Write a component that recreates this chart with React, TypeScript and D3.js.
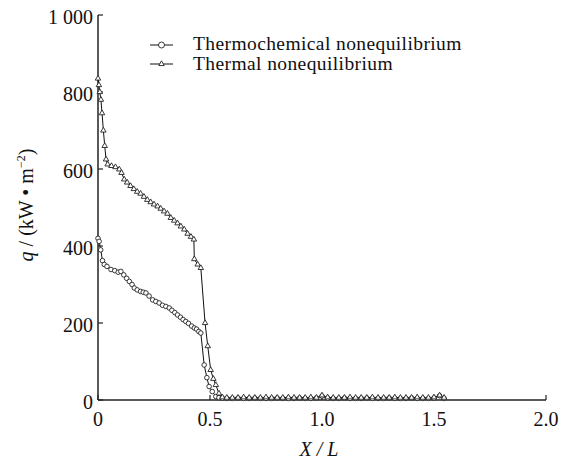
import React from "react";
import * as d3 from "d3";

const thermoChemX = [0, 0.005, 0.012, 0.02, 0.028, 0.04, 0.058, 0.075, 0.09, 0.102, 0.115, 0.128, 0.14, 0.152, 0.162, 0.175, 0.19, 0.202, 0.214, 0.228, 0.244, 0.258, 0.273, 0.288, 0.303, 0.318, 0.33, 0.343, 0.355, 0.368, 0.38, 0.392, 0.404, 0.418, 0.43, 0.44, 0.45, 0.459, 0.474, 0.486, 0.496, 0.51, 0.526, 0.54];
const thermoChemY = [420, 412, 390, 362, 352, 347, 339, 336, 332, 334, 325, 316, 308, 300, 291, 286, 282, 280, 278, 270, 260, 256, 252, 246, 243, 239, 233, 227, 221, 215, 209, 204, 199, 192, 187, 184, 178, 174, 91, 58, 35, 22, 9, 6];

const thermalX = [0, 0.004, 0.008, 0.013, 0.018, 0.024, 0.03, 0.036, 0.043, 0.06, 0.078, 0.095, 0.105, 0.117, 0.13, 0.145, 0.16, 0.175, 0.19, 0.205, 0.22, 0.235, 0.25, 0.266, 0.28, 0.295, 0.31, 0.325, 0.34, 0.355, 0.37, 0.385, 0.4, 0.415, 0.428, 0.43, 0.445, 0.459, 0.478, 0.49, 0.503, 0.515, 0.526, 0.54];
const thermalY = [835, 818, 800, 780, 745, 700, 660, 625, 612, 608, 605, 599, 590, 573, 565, 556, 548, 541, 536, 528, 520, 514, 508, 503, 497, 490, 484, 473, 466, 459, 451, 443, 432, 424, 417, 366, 352, 343, 200, 140, 78, 55, 39, 17];

const tailX = [0.555, 0.575, 0.6, 0.625, 0.65, 0.675, 0.7, 0.725, 0.75, 0.775, 0.8, 0.825, 0.85, 0.875, 0.9, 0.925, 0.95, 0.975, 1.0, 1.025, 1.05, 1.075, 1.1, 1.125, 1.15, 1.175, 1.2, 1.225, 1.25, 1.275, 1.3, 1.325, 1.35, 1.375, 1.4, 1.425, 1.45, 1.475, 1.5, 1.525, 1.545];
const thermoChemTail = [5, 4, 4, 5, 4, 4, 5, 4, 4, 4, 5, 4, 4, 4, 5, 4, 4, 5, 10, 5, 4, 4, 5, 4, 4, 4, 5, 4, 4, 4, 5, 4, 4, 4, 5, 4, 4, 4, 5, 11, 4];
const thermalTail = [7, 6, 6, 6, 7, 6, 6, 6, 7, 6, 6, 6, 7, 6, 6, 6, 7, 6, 12, 7, 6, 6, 6, 7, 6, 6, 6, 7, 6, 6, 6, 7, 6, 6, 6, 7, 6, 6, 7, 12, 6];

const yTicks = [0, 200, 400, 600, 800, 1000];
const yTickLabels = ["0", "200", "400", "600", "800", "1 000"];
const xTicks = [0, 0.5, 1.0, 1.5, 2.0];
const xTickLabels = ["0", "0.5", "1.0", "1.5", "2.0"];
const seriesNames = ["Thermochemical nonequilibrium", "Thermal nonequilibrium"];

const W = 569, H = 462;
const left = 98, right = 546, top = 15, bottom = 400;
const FONT = "Liberation Serif, Times New Roman, DejaVu Serif, serif";
const ts: React.CSSProperties = { fontFamily: FONT };

export default function App() {
  const x = d3.scaleLinear().domain([0, 2]).range([left, right]);
  const y = d3.scaleLinear().domain([0, 1000]).range([bottom, top]);
  const line = d3.line<[number, number]>().x(d => x(d[0])).y(d => y(d[1]));

  const s1: [number, number][] = thermoChemX.map((v, i) => [v, thermoChemY[i]] as [number, number])
    .concat(tailX.map((v, i) => [v, thermoChemTail[i]] as [number, number]));
  const s2: [number, number][] = thermalX.map((v, i) => [v, thermalY[i]] as [number, number])
    .concat(tailX.map((v, i) => [v, thermalTail[i]] as [number, number]));

  const tri = d3.symbol().type(d3.symbolTriangle).size(13)();
  const legStyle: React.CSSProperties = { fontFamily: FONT, letterSpacing: "0.4px" };

  return (
    <svg width={W} height={H} style={{ position: "absolute", left: 0, top: 0, background: "#fff", fontFamily: FONT }}>
      <rect x={0} y={0} width={W} height={H} fill="#fff" />
      {/* axes */}
      <line x1={left} y1={top} x2={left} y2={bottom} stroke="#222" strokeWidth={1.5} />
      <line x1={left} y1={bottom} x2={right} y2={bottom} stroke="#222" strokeWidth={1.5} />
      {yTicks.map((t, i) => (
        <g key={"y" + t}>
          <line x1={left} x2={left + 5} y1={y(t)} y2={y(t)} stroke="#222" strokeWidth={1.2} />
          <text style={ts} x={left - 5} y={y(t) + 9} textAnchor="end" fontSize={20} fill="#111">{yTickLabels[i]}</text>
        </g>
      ))}
      {xTicks.map((t, i) => (
        <g key={"x" + t}>
          <line x1={x(t)} x2={x(t)} y1={bottom} y2={bottom - 5} stroke="#222" strokeWidth={1.2} />
          <text style={ts} x={x(t)} y={426} textAnchor="middle" fontSize={20} fill="#111">{xTickLabels[i]}</text>
        </g>
      ))}
      <text style={ts} x={x(1) - 3} y={456} textAnchor="middle" fontSize={20} fontStyle="italic" fill="#111">X / L</text>
      <text style={ts} transform={`translate(33, ${205}) rotate(-90)`} textAnchor="middle" fontSize={20} fill="#111">
        <tspan fontStyle="italic">q</tspan>
        <tspan> / (kW • m</tspan>
        <tspan dy={-8} fontSize={12}>−2</tspan>
        <tspan dy={8}>)</tspan>
      </text>

      {/* series */}
      <path d={line(s1) || ""} fill="none" stroke="#111" strokeWidth={1} />
      <path d={line(s2) || ""} fill="none" stroke="#111" strokeWidth={1} />
      {s1.map((d, i) => (
        <circle key={"c" + i} cx={x(d[0])} cy={y(d[1])} r={2.3} fill="#fff" stroke="#222" strokeWidth={0.9} />
      ))}
      {s2.map((d, i) => (
        <path key={"t" + i} d={tri || ""} transform={`translate(${x(d[0])},${y(d[1])})`} fill="#fff" stroke="#222" strokeWidth={0.9} />
      ))}

      {/* legend */}
      <g>
        <line x1={150} x2={173} y1={45} y2={45} stroke="#111" strokeWidth={1} />
        <circle cx={161.5} cy={45} r={3} fill="#fff" stroke="#222" strokeWidth={0.9} />
        <text style={legStyle} x={193} y={50} fontSize={19.5} fill="#111">{seriesNames[0]}</text>
        <line x1={150} x2={173} y1={64} y2={64} stroke="#111" strokeWidth={1} />
        <path d={tri || ""} transform="translate(161.5,64)" fill="#fff" stroke="#222" strokeWidth={0.9} />
        <text style={legStyle} x={193} y={70} fontSize={19.5} fill="#111">{seriesNames[1]}</text>
      </g>
    </svg>
  );
}
